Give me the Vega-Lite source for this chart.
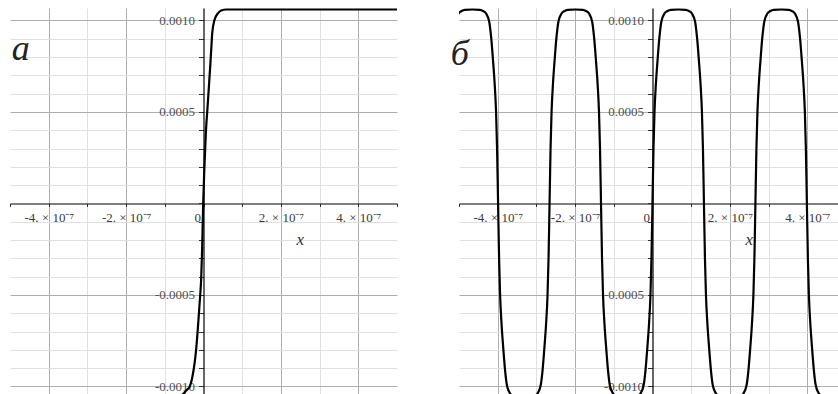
{
  "$schema": "https://vega.github.io/schema/vega-lite/v6.json",
  "background": "white",
  "padding": {"left": 9, "top": 8, "right": 0, "bottom": 0},
  "bounds": "flush",
  "spacing": 62,
  "config": {
    "view": {"stroke": null},
    "axis": {"minExtent": 0, "maxExtent": 400}
  },
  "datasets": {
    "step": [
      {"x": -5e-7, "y": -0.00106},
      {"x": -7.5e-8, "y": -0.00106},
      {"x": -6.2e-8, "y": -0.001055},
      {"x": -5.2e-8, "y": -0.00104},
      {"x": -4.4e-8, "y": -0.00102},
      {"x": -3.62e-8, "y": -0.001003},
      {"x": -3.0e-8, "y": -0.00096},
      {"x": -2.48e-8, "y": -0.000899},
      {"x": -1.96e-8, "y": -0.000811},
      {"x": -1.45e-8, "y": -0.00068},
      {"x": -8.5e-9, "y": -0.0005},
      {"x": -5.9e-9, "y": -0.000407},
      {"x": -3.4e-9, "y": -0.00024},
      {"x": -8e-10, "y": 0},
      {"x": 2e-9, "y": 0.00018},
      {"x": 4.4e-9, "y": 0.0003},
      {"x": 6.2e-9, "y": 0.00039},
      {"x": 9.6e-9, "y": 0.0005},
      {"x": 1.29e-8, "y": 0.000604},
      {"x": 1.73e-8, "y": 0.000748},
      {"x": 1.99e-8, "y": 0.000839},
      {"x": 2.25e-8, "y": 0.00093},
      {"x": 2.84e-8, "y": 0.001003},
      {"x": 3.72e-8, "y": 0.001039},
      {"x": 4.57e-8, "y": 0.001055},
      {"x": 5.87e-8, "y": 0.00106},
      {"x": 5e-7, "y": 0.00106}
    ],
    "wave": [
      {"x": -5.32e-7, "y": 0},
      {"x": -5.294e-7, "y": 0.0003},
      {"x": -5.268e-7, "y": 0.0005},
      {"x": -5.23e-7, "y": 0.00066},
      {"x": -5.19e-7, "y": 0.00078},
      {"x": -5.14e-7, "y": 0.00091},
      {"x": -5.09e-7, "y": 0.000995},
      {"x": -5.01e-7, "y": 0.001038},
      {"x": -4.93e-7, "y": 0.001052},
      {"x": -4.85e-7, "y": 0.001058},
      {"x": -4.655e-7, "y": 0.00106},
      {"x": -4.46e-7, "y": 0.001058},
      {"x": -4.38e-7, "y": 0.001052},
      {"x": -4.30e-7, "y": 0.001038},
      {"x": -4.22e-7, "y": 0.000995},
      {"x": -4.17e-7, "y": 0.00091},
      {"x": -4.12e-7, "y": 0.00078},
      {"x": -4.08e-7, "y": 0.00066},
      {"x": -4.042e-7, "y": 0.0005},
      {"x": -4.016e-7, "y": 0.0003},
      {"x": -3.99e-7, "y": 0},
      {"x": -3.964e-7, "y": -0.0003},
      {"x": -3.938e-7, "y": -0.0005},
      {"x": -3.90e-7, "y": -0.00066},
      {"x": -3.86e-7, "y": -0.00078},
      {"x": -3.81e-7, "y": -0.00091},
      {"x": -3.76e-7, "y": -0.000995},
      {"x": -3.68e-7, "y": -0.001038},
      {"x": -3.60e-7, "y": -0.001052},
      {"x": -3.52e-7, "y": -0.001058},
      {"x": -3.325e-7, "y": -0.00106},
      {"x": -3.13e-7, "y": -0.001058},
      {"x": -3.05e-7, "y": -0.001052},
      {"x": -2.97e-7, "y": -0.001038},
      {"x": -2.89e-7, "y": -0.000995},
      {"x": -2.84e-7, "y": -0.00091},
      {"x": -2.79e-7, "y": -0.00078},
      {"x": -2.75e-7, "y": -0.00066},
      {"x": -2.712e-7, "y": -0.0005},
      {"x": -2.686e-7, "y": -0.0003},
      {"x": -2.66e-7, "y": 0},
      {"x": -2.634e-7, "y": 0.0003},
      {"x": -2.608e-7, "y": 0.0005},
      {"x": -2.57e-7, "y": 0.00066},
      {"x": -2.53e-7, "y": 0.00078},
      {"x": -2.48e-7, "y": 0.00091},
      {"x": -2.43e-7, "y": 0.000995},
      {"x": -2.35e-7, "y": 0.001038},
      {"x": -2.27e-7, "y": 0.001052},
      {"x": -2.19e-7, "y": 0.001058},
      {"x": -1.995e-7, "y": 0.00106},
      {"x": -1.80e-7, "y": 0.001058},
      {"x": -1.72e-7, "y": 0.001052},
      {"x": -1.64e-7, "y": 0.001038},
      {"x": -1.56e-7, "y": 0.000995},
      {"x": -1.51e-7, "y": 0.00091},
      {"x": -1.46e-7, "y": 0.00078},
      {"x": -1.42e-7, "y": 0.00066},
      {"x": -1.382e-7, "y": 0.0005},
      {"x": -1.356e-7, "y": 0.0003},
      {"x": -1.33e-7, "y": 0},
      {"x": -1.304e-7, "y": -0.0003},
      {"x": -1.278e-7, "y": -0.0005},
      {"x": -1.24e-7, "y": -0.00066},
      {"x": -1.20e-7, "y": -0.00078},
      {"x": -1.15e-7, "y": -0.00091},
      {"x": -1.10e-7, "y": -0.000995},
      {"x": -1.02e-7, "y": -0.001038},
      {"x": -9.4e-8, "y": -0.001052},
      {"x": -8.6e-8, "y": -0.001058},
      {"x": -6.65e-8, "y": -0.00106},
      {"x": -4.7e-8, "y": -0.001058},
      {"x": -3.9e-8, "y": -0.001052},
      {"x": -3.1e-8, "y": -0.001038},
      {"x": -2.3e-8, "y": -0.000995},
      {"x": -1.8e-8, "y": -0.00091},
      {"x": -1.3e-8, "y": -0.00078},
      {"x": -9e-9, "y": -0.00066},
      {"x": -5.2e-9, "y": -0.0005},
      {"x": -2.6e-9, "y": -0.0003},
      {"x": 0, "y": 0},
      {"x": 2.6e-9, "y": 0.0003},
      {"x": 5.2e-9, "y": 0.0005},
      {"x": 9e-9, "y": 0.00066},
      {"x": 1.3e-8, "y": 0.00078},
      {"x": 1.8e-8, "y": 0.00091},
      {"x": 2.3e-8, "y": 0.000995},
      {"x": 3.1e-8, "y": 0.001038},
      {"x": 3.9e-8, "y": 0.001052},
      {"x": 4.7e-8, "y": 0.001058},
      {"x": 6.65e-8, "y": 0.00106},
      {"x": 8.6e-8, "y": 0.001058},
      {"x": 9.4e-8, "y": 0.001052},
      {"x": 1.02e-7, "y": 0.001038},
      {"x": 1.10e-7, "y": 0.000995},
      {"x": 1.15e-7, "y": 0.00091},
      {"x": 1.20e-7, "y": 0.00078},
      {"x": 1.24e-7, "y": 0.00066},
      {"x": 1.278e-7, "y": 0.0005},
      {"x": 1.304e-7, "y": 0.0003},
      {"x": 1.33e-7, "y": 0},
      {"x": 1.356e-7, "y": -0.0003},
      {"x": 1.382e-7, "y": -0.0005},
      {"x": 1.42e-7, "y": -0.00066},
      {"x": 1.46e-7, "y": -0.00078},
      {"x": 1.51e-7, "y": -0.00091},
      {"x": 1.56e-7, "y": -0.000995},
      {"x": 1.64e-7, "y": -0.001038},
      {"x": 1.72e-7, "y": -0.001052},
      {"x": 1.80e-7, "y": -0.001058},
      {"x": 1.995e-7, "y": -0.00106},
      {"x": 2.19e-7, "y": -0.001058},
      {"x": 2.27e-7, "y": -0.001052},
      {"x": 2.35e-7, "y": -0.001038},
      {"x": 2.43e-7, "y": -0.000995},
      {"x": 2.48e-7, "y": -0.00091},
      {"x": 2.53e-7, "y": -0.00078},
      {"x": 2.57e-7, "y": -0.00066},
      {"x": 2.608e-7, "y": -0.0005},
      {"x": 2.634e-7, "y": -0.0003},
      {"x": 2.66e-7, "y": 0},
      {"x": 2.686e-7, "y": 0.0003},
      {"x": 2.712e-7, "y": 0.0005},
      {"x": 2.75e-7, "y": 0.00066},
      {"x": 2.79e-7, "y": 0.00078},
      {"x": 2.84e-7, "y": 0.00091},
      {"x": 2.89e-7, "y": 0.000995},
      {"x": 2.97e-7, "y": 0.001038},
      {"x": 3.05e-7, "y": 0.001052},
      {"x": 3.13e-7, "y": 0.001058},
      {"x": 3.325e-7, "y": 0.00106},
      {"x": 3.52e-7, "y": 0.001058},
      {"x": 3.60e-7, "y": 0.001052},
      {"x": 3.68e-7, "y": 0.001038},
      {"x": 3.76e-7, "y": 0.000995},
      {"x": 3.81e-7, "y": 0.00091},
      {"x": 3.86e-7, "y": 0.00078},
      {"x": 3.90e-7, "y": 0.00066},
      {"x": 3.938e-7, "y": 0.0005},
      {"x": 3.964e-7, "y": 0.0003},
      {"x": 3.99e-7, "y": 0},
      {"x": 4.016e-7, "y": -0.0003},
      {"x": 4.042e-7, "y": -0.0005},
      {"x": 4.08e-7, "y": -0.00066},
      {"x": 4.12e-7, "y": -0.00078},
      {"x": 4.17e-7, "y": -0.00091},
      {"x": 4.22e-7, "y": -0.000995},
      {"x": 4.30e-7, "y": -0.001038},
      {"x": 4.38e-7, "y": -0.001052},
      {"x": 4.46e-7, "y": -0.001058},
      {"x": 4.655e-7, "y": -0.00106},
      {"x": 4.85e-7, "y": -0.001058},
      {"x": 4.93e-7, "y": -0.001052},
      {"x": 5.01e-7, "y": -0.001038},
      {"x": 5.09e-7, "y": -0.000995},
      {"x": 5.14e-7, "y": -0.00091},
      {"x": 5.19e-7, "y": -0.00078},
      {"x": 5.23e-7, "y": -0.00066},
      {"x": 5.268e-7, "y": -0.0005},
      {"x": 5.294e-7, "y": -0.0003},
      {"x": 5.32e-7, "y": 0}
    ]
  },
  "hconcat": [
    {
      "width": 387,
      "height": 386,
      "resolve": {"axis": {"x": "independent", "y": "independent"}},
      "layer": [
        {
          "data": {"name": "step"},
          "mark": {"type": "line", "clip": true, "color": "black", "strokeWidth": 2.2, "interpolate": "monotone"},
          "encoding": {
            "x": {
              "field": "x", "type": "quantitative",
              "scale": {"domain": [-5e-7, 5e-7], "nice": false, "zero": false},
              "axis": {
                "orient": "bottom", "grid": true, "labels": false, "ticks": false, "domain": false, "title": null, "zindex": 0,
                "values": [-4e-7, -3e-7, -2e-7, -1e-7, 1e-7, 2e-7, 3e-7, 4e-7],
                "gridWidth": 1,
                "gridColor": {"condition": {"test": "round(datum.value*1e7) % 2 == 0", "value": "#aeaeae"}, "value": "#e0e0e0"}
              }
            },
            "y": {
              "field": "y", "type": "quantitative",
              "scale": {"domain": [-0.001041, 0.0010683], "nice": false, "zero": false},
              "axis": {
                "orient": "left", "grid": true, "labels": false, "ticks": false, "domain": false, "title": null, "zindex": 0,
                "values": [-0.001, -0.0009, -0.0008, -0.0007, -0.0006, -0.0005, -0.0004, -0.0003, -0.0002, -0.0001, 0.0001, 0.0002, 0.0003, 0.0004, 0.0005, 0.0006, 0.0007, 0.0008, 0.0009, 0.001],
                "gridWidth": 1,
                "gridColor": {"condition": {"test": "round(datum.value*1e4) % 5 == 0", "value": "#aeaeae"}, "value": "#e0e0e0"}
              }
            }
          }
        },
        {
          "data": {"values": [{}]},
          "mark": {"type": "text", "text": "a", "font": "Liberation Serif", "fontStyle": "italic", "fontSize": 36, "color": "#222", "align": "center", "baseline": "alphabetic"},
          "encoding": {
            "x": {
              "datum": -4.72e-7, "type": "quantitative",
              "scale": {"domain": [-5e-7, 5e-7], "nice": false, "zero": false},
              "axis": {
                "orient": "bottom", "offset": -190.5, "grid": false, "title": null, "zindex": 0,
                "values": [-5e-7, -4e-7, -3e-7, -2e-7, -1e-7, 0, 1e-7, 2e-7, 3e-7, 4e-7, 5e-7],
                "domainColor": "black", "domainWidth": 1.2,
                "tickColor": "#333", "tickSize": 3, "tickWidth": 1,
                "labelExpr": "round(datum.value*1e7) % 2 != 0 ? '' : (round(datum.value*1e7) == 0 ? '0' : round(datum.value*1e7) + '. × 10⁻⁷')",
                "labelFont": "Liberation Serif", "labelFontSize": 13, "labelColor": "#3a3a3a", "labelPadding": 5,
                "labelAlign": {"condition": {"test": "datum.value == 0", "value": "right"}, "value": "center"},
                "labelOffset": {"condition": {"test": "datum.value == 0", "value": -3}, "value": 0},
                "labelOverlap": false, "labelFlush": false, "labelBound": false
              }
            },
            "y": {
              "datum": 0.000784, "type": "quantitative",
              "scale": {"domain": [-0.001041, 0.0010683], "nice": false, "zero": false},
              "axis": {
                "orient": "left", "offset": -193.5, "grid": false, "title": null, "zindex": 0,
                "values": [-0.001, -0.0009, -0.0008, -0.0007, -0.0006, -0.0005, -0.0004, -0.0003, -0.0002, -0.0001, 0, 0.0001, 0.0002, 0.0003, 0.0004, 0.0005, 0.0006, 0.0007, 0.0008, 0.0009, 0.001],
                "domainColor": "black", "domainWidth": 1.2,
                "tickColor": "#333", "tickSize": 5, "tickWidth": 1,
                "labelExpr": "round(datum.value*1e4) % 5 != 0 || round(datum.value*1e4) == 0 ? '' : (datum.value < 0 ? '-' : '') + format(abs(datum.value), '.4f')",
                "labelFont": "Liberation Serif", "labelFontSize": 13, "labelColor": "#505050", "labelPadding": 4,
                "labelOverlap": false, "labelFlush": false, "labelBound": false
              }
            }
          }
        },
        {
          "data": {"values": [{}]},
          "mark": {"type": "text", "text": "x", "font": "Liberation Serif", "fontStyle": "italic", "fontSize": 17, "color": "#333", "align": "center", "baseline": "alphabetic"},
          "encoding": {
            "x": {"datum": 2.5e-7, "type": "quantitative", "scale": {"domain": [-5e-7, 5e-7], "nice": false, "zero": false}, "axis": null},
            "y": {"datum": -0.000227, "type": "quantitative", "scale": {"domain": [-0.001041, 0.0010683], "nice": false, "zero": false}, "axis": null}
          }
        }
      ]
    },
    {
      "width": 380,
      "height": 386,
      "resolve": {"axis": {"x": "independent", "y": "independent"}},
      "layer": [
        {
          "data": {"name": "wave"},
          "mark": {"type": "line", "clip": true, "color": "black", "strokeWidth": 2.2, "interpolate": "monotone"},
          "encoding": {
            "x": {
              "field": "x", "type": "quantitative",
              "scale": {"domain": [-5e-7, 4.82e-7], "nice": false, "zero": false},
              "axis": {
                "orient": "bottom", "grid": true, "labels": false, "ticks": false, "domain": false, "title": null, "zindex": 0,
                "values": [-4e-7, -3e-7, -2e-7, -1e-7, 1e-7, 2e-7, 3e-7, 4e-7],
                "gridWidth": 1,
                "gridColor": {"condition": {"test": "round(datum.value*1e7) % 2 == 0", "value": "#aeaeae"}, "value": "#e0e0e0"}
              }
            },
            "y": {
              "field": "y", "type": "quantitative",
              "scale": {"domain": [-0.001041, 0.0010683], "nice": false, "zero": false},
              "axis": {
                "orient": "left", "grid": true, "labels": false, "ticks": false, "domain": false, "title": null, "zindex": 0,
                "values": [-0.001, -0.0009, -0.0008, -0.0007, -0.0006, -0.0005, -0.0004, -0.0003, -0.0002, -0.0001, 0.0001, 0.0002, 0.0003, 0.0004, 0.0005, 0.0006, 0.0007, 0.0008, 0.0009, 0.001],
                "gridWidth": 1,
                "gridColor": {"condition": {"test": "round(datum.value*1e4) % 5 == 0", "value": "#aeaeae"}, "value": "#e0e0e0"}
              }
            }
          }
        },
        {
          "data": {"values": [{}]},
          "mark": {"type": "text", "text": "б", "font": "Liberation Serif", "fontStyle": "italic", "fontSize": 36, "color": "#222", "align": "center", "baseline": "alphabetic"},
          "encoding": {
            "x": {
              "datum": -4.98e-7, "type": "quantitative",
              "scale": {"domain": [-5e-7, 4.82e-7], "nice": false, "zero": false},
              "axis": {
                "orient": "bottom", "offset": -190.5, "grid": false, "title": null, "zindex": 0,
                "values": [-5e-7, -4e-7, -3e-7, -2e-7, -1e-7, 0, 1e-7, 2e-7, 3e-7, 4e-7],
                "domainColor": "black", "domainWidth": 1.2,
                "tickColor": "#333", "tickSize": 3, "tickWidth": 1,
                "labelExpr": "round(datum.value*1e7) % 2 != 0 ? '' : (round(datum.value*1e7) == 0 ? '0' : round(datum.value*1e7) + '. × 10⁻⁷')",
                "labelFont": "Liberation Serif", "labelFontSize": 13, "labelColor": "#3a3a3a", "labelPadding": 5,
                "labelAlign": {"condition": {"test": "datum.value == 0", "value": "right"}, "value": "center"},
                "labelOffset": {"condition": {"test": "datum.value == 0", "value": -3}, "value": 0},
                "labelOverlap": false, "labelFlush": false, "labelBound": false
              }
            },
            "y": {
              "datum": 0.000757, "type": "quantitative",
              "scale": {"domain": [-0.001041, 0.0010683], "nice": false, "zero": false},
              "axis": {
                "orient": "left", "offset": -193.5, "grid": false, "title": null, "zindex": 0,
                "values": [-0.001, -0.0009, -0.0008, -0.0007, -0.0006, -0.0005, -0.0004, -0.0003, -0.0002, -0.0001, 0, 0.0001, 0.0002, 0.0003, 0.0004, 0.0005, 0.0006, 0.0007, 0.0008, 0.0009, 0.001],
                "domainColor": "black", "domainWidth": 1.2,
                "tickColor": "#333", "tickSize": 5, "tickWidth": 1,
                "labelExpr": "round(datum.value*1e4) % 5 != 0 || round(datum.value*1e4) == 0 ? '' : (datum.value < 0 ? '-' : '') + format(abs(datum.value), '.4f')",
                "labelFont": "Liberation Serif", "labelFontSize": 13, "labelColor": "#505050", "labelPadding": 4,
                "labelOverlap": false, "labelFlush": false, "labelBound": false
              }
            }
          }
        },
        {
          "data": {"values": [{}]},
          "mark": {"type": "text", "text": "x", "font": "Liberation Serif", "fontStyle": "italic", "fontSize": 17, "color": "#333", "align": "center", "baseline": "alphabetic"},
          "encoding": {
            "x": {"datum": 2.5e-7, "type": "quantitative", "scale": {"domain": [-5e-7, 4.82e-7], "nice": false, "zero": false}, "axis": null},
            "y": {"datum": -0.000227, "type": "quantitative", "scale": {"domain": [-0.001041, 0.0010683], "nice": false, "zero": false}, "axis": null}
          }
        }
      ]
    }
  ]
}
